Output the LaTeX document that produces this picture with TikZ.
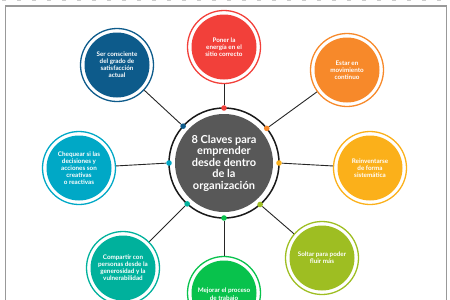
\documentclass[tikz,border=0pt]{standalone}
\usepackage{fontspec}
\setmainfont{Lato}
\definecolor{cred}{HTML}{F2403A}
\definecolor{corange}{HTML}{F7892A}
\definecolor{cyellow}{HTML}{FBB01A}
\definecolor{cyg}{HTML}{9EBE22}
\definecolor{cgreen}{HTML}{08C24C}
\definecolor{cteal}{HTML}{00B19C}
\definecolor{ccyan}{HTML}{00A8C6}
\definecolor{cblue}{HTML}{0D5B8B}
\definecolor{cgray}{HTML}{585858}
\begin{document}
\begin{tikzpicture}[x=1pt,y=-1pt,
  ring/.style={circle,draw=#1,line width=1.3pt,minimum size=73pt,inner sep=0pt},
  sattext/.style={circle,fill=#1,minimum size=65pt,inner sep=0pt,text=white,
    font=\fontsize{6.3}{7.1}\selectfont\bfseries,align=center},
  dot/.style={circle,fill=#1,minimum size=5.6pt,inner sep=0pt},
  link/.style={draw=black!85,line width=0.9pt},
  framepen/.style={draw=black!40,line width=1.6pt}]
\useasboundingbox (0,0) rectangle (450,300);
\draw[black!20,line width=0.8pt,dash pattern=on 4pt off 11pt] (2,0.4) -- (450,0.4);
\coordinate (fbl) at (5.5,299.5);
\coordinate (ftl) at (5.5,5.8);
\coordinate (ftr) at (446.5,5.8);
\coordinate (fbr) at (446.5,299.5);
\draw[framepen] (fbl) -- (ftl) -- (ftr) -- (fbr);
% center
\node[circle,draw=black!90,line width=1.5pt,minimum size=110pt,inner sep=0pt] (c) at (224,163) {};
\node[circle,fill=cgray,minimum size=98pt,inner sep=0pt,text=white,
  font=\fontsize{11}{11.5}\selectfont\bfseries,align=center] (ct) at (224,163)
  {8 Claves para\\emprender\\desde dentro\\de la\\organización};
% satellites
\node[ring=cred] (s1) at (224,47) {};
\node[sattext=cred] at (224,47) {Poner la\\energía en el\\sitio correcto};
\node[ring=corange] (s2) at (347,70) {};
\node[sattext=corange] at (347,70) {Estar en\\movimiento\\continuo};
\node[ring=cyellow] (s3) at (370,168) {};
\node[sattext=cyellow] at (370,168) {Reinventarse\\de forma\\sistemática};
\node[ring=cyg] (s4) at (322,258) {};
\node[sattext=cyg] at (322,258) {Soltar para poder\\fluir más};
\node[ring=cgreen] (s5) at (224,293) {};
\node[sattext=cgreen] at (224,293) {\\[1pt]Mejorar el proceso\\de trabajo};
\node[ring=cteal] (s6) at (123,268) {};
\node[sattext=cteal] at (123,268) {Compartir con\\personas desde la\\generosidad y la\\vulnerabilidad};
\node[ring=ccyan] (s7) at (79,168) {};
\node[sattext=ccyan] at (79,168) {Chequear si las\\decisiones y\\acciones son\\creativas\\o reactivas};
\node[ring=cblue] (s8) at (117,65) {};
\node[sattext=cblue] at (117,65) {Ser consciente\\del grado de\\satisfacción\\actual};
% dots
\path (c.center) ++(-90:55) node[dot=cred] (d1) {};
\path (c.center) ++(-39:55) node[dot=corange] (d2) {};
\path (c.center) ++(0:55) node[dot=cyellow] (d3) {};
\path (c.center) ++(49:55) node[dot=cyg] (d4) {};
\path (c.center) ++(90:55) node[dot=cgreen] (d5) {};
\path (c.center) ++(132:55) node[dot=cteal] (d6) {};
\path (c.center) ++(180:55) node[dot=ccyan] (d7) {};
\path (c.center) ++(222:55) node[dot=cblue] (d8) {};
% connectors
\draw[link] (d1) -- (s1);
\draw[link] (d2) -- (s2);
\draw[link] (d3) -- (s3);
\draw[link] (d4) -- (s4);
\draw[link] (d5) -- (s5);
\draw[link] (d6) -- (s6);
\draw[link] (d7) -- (s7);
\draw[link] (d8) -- (s8);
\end{tikzpicture}
\end{document}
